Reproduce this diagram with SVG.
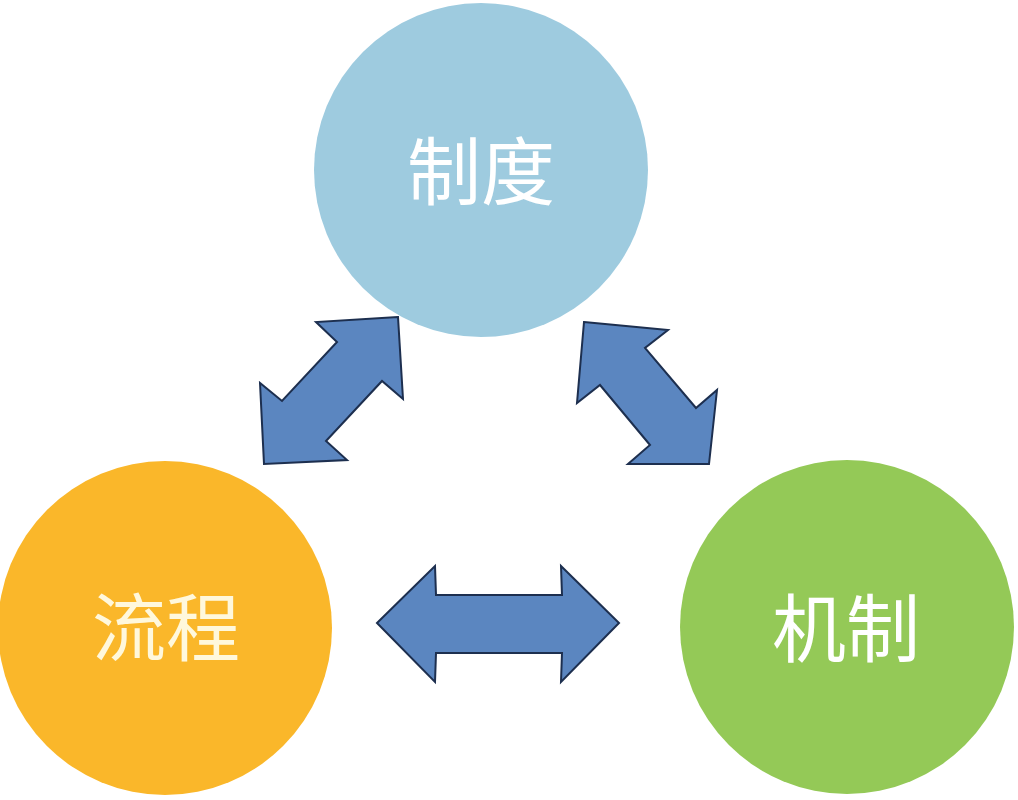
<svg xmlns="http://www.w3.org/2000/svg" width="1018" height="800" viewBox="0 0 1018 800">
  <style>
    .lbl { font-family: "Noto Sans CJK SC", "Noto Sans", sans-serif; font-size: 74px; fill: #ffffff; text-anchor: middle; }
    .arrow { fill: #5b86c0; stroke: #1d2f4f; stroke-width: 2; stroke-linejoin: miter; }
  </style>
  <rect width="1018" height="800" fill="#ffffff"/>
  <g id="node-zhidu">
    <circle cx="481" cy="170" r="167" fill="#9ecbdf"/>
    <text class="lbl" x="481" y="199">制度</text>
  </g>
  <g id="node-liucheng">
    <circle cx="165" cy="628" r="167" fill="#fab72a"/>
    <text class="lbl" x="166" y="655" style="fill:#fff8dc">流程</text>
  </g>
  <g id="node-jizhi">
    <circle cx="847" cy="627" r="167" fill="#94c957"/>
    <text class="lbl" x="846" y="656">机制</text>
  </g>
  <g id="connectors">
    <polygon class="arrow" points="398,317 316,322 337,342 282,401 260,383 264,464 347,460 326,441 382,381 403,399"/>
    <polygon class="arrow" points="584,322 668,330 645,348 696,408 717,390 709,464 628,464 650,445 600,385 577,403"/>
    <polygon class="arrow" points="377,623 435,566 436,595 562,595 561,566 619,623 561,682 562,653 436,653 435,682"/>
  </g>
</svg>
